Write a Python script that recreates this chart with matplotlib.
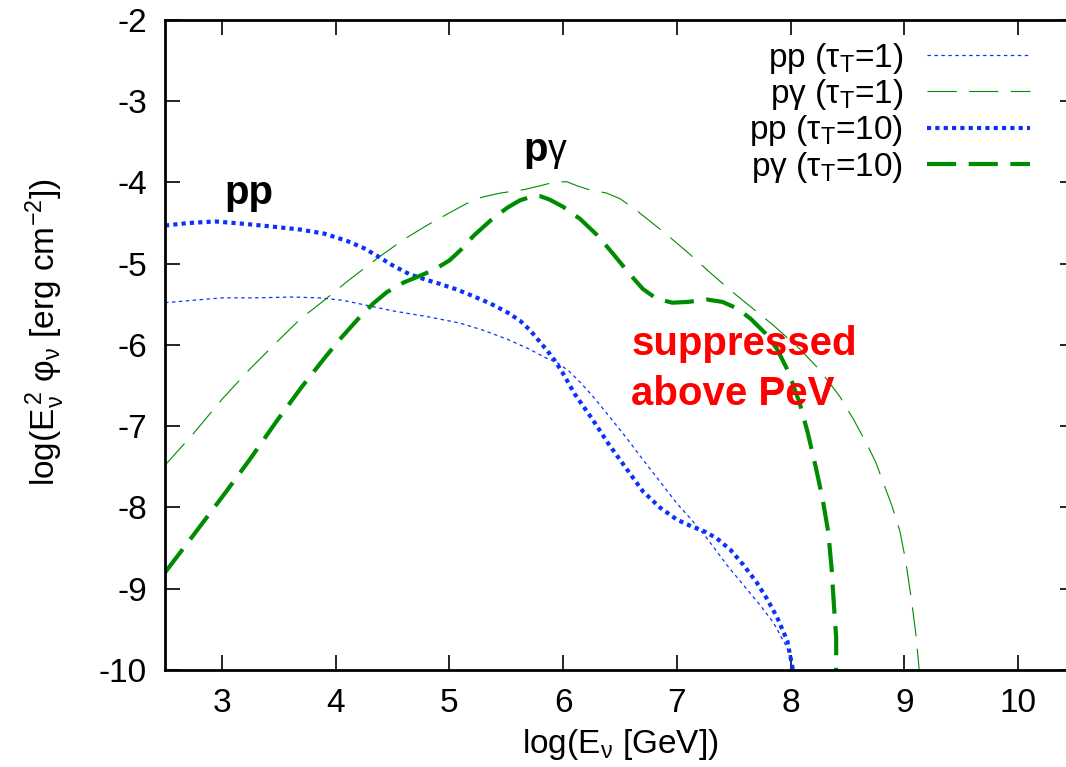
import numpy as np
import matplotlib
matplotlib.use("Agg")
import matplotlib.pyplot as plt

pp1_x = [2.5, 2.75, 3.0, 3.3, 3.62, 3.85, 4.06, 4.3, 4.5, 4.8, 5.09, 5.3, 5.51, 5.7, 5.85, 5.95, 6.05, 6.15,
         6.26, 6.4, 6.56, 6.7, 6.85, 7.0, 7.14, 7.26, 7.44, 7.6, 7.73, 7.85, 7.97, 8.02]
pp1_y = [-5.48, -5.45, -5.42, -5.42, -5.41, -5.42, -5.45, -5.52, -5.58, -5.65, -5.73, -5.82, -5.93, -6.05, -6.16,
         -6.22, -6.32, -6.46, -6.63, -6.87, -7.15, -7.41, -7.68, -7.95, -8.17, -8.37, -8.71, -8.98, -9.2, -9.42,
         -9.73, -10.0]

pg1_x = [2.5, 2.75, 3.0, 3.25, 3.5, 3.69, 3.9, 4.1, 4.36, 4.6, 4.8, 4.98, 5.15, 5.29, 5.45, 5.65, 5.8, 5.91,
         6.03, 6.12, 6.23, 6.38, 6.5, 6.65, 6.82, 6.96, 7.11, 7.3, 7.49, 7.64, 7.85, 8.08, 8.25, 8.43, 8.55, 8.67,
         8.75, 8.81, 8.89, 8.96, 9.01, 9.06, 9.1, 9.13]
pg1_y = [-7.48, -7.09, -6.67, -6.29, -5.94, -5.68, -5.45, -5.22, -4.94, -4.7, -4.53, -4.39, -4.26, -4.18, -4.13,
         -4.09, -4.04, -4.0, -3.99, -4.04, -4.09, -4.13, -4.2, -4.35, -4.54, -4.7, -4.88, -5.12, -5.35, -5.52,
         -5.76, -6.05, -6.3, -6.63, -6.91, -7.22, -7.45, -7.68, -7.98, -8.29, -8.65, -9.12, -9.55, -10.0]

pp10_x = [2.5, 2.7, 2.94, 3.2, 3.42, 3.69, 3.9, 4.1, 4.25, 4.36, 4.5, 4.65, 4.8, 4.92, 5.07, 5.21, 5.36, 5.51,
          5.62, 5.71, 5.8, 5.86, 5.93, 5.99, 6.1, 6.26, 6.4, 6.56, 6.7, 6.85, 7.0, 7.14, 7.25, 7.35, 7.47, 7.58,
          7.7, 7.79, 7.88, 7.97, 8.02]
pp10_y = [-4.53, -4.5, -4.48, -4.51, -4.54, -4.58, -4.63, -4.72, -4.81, -4.9, -5.02, -5.13, -5.2, -5.25, -5.32,
          -5.40, -5.49, -5.60, -5.70, -5.82, -5.97, -6.07, -6.2, -6.33, -6.6, -6.92, -7.22, -7.53, -7.8, -8.0,
          -8.15, -8.24, -8.3, -8.38, -8.52, -8.7, -8.92, -9.12, -9.35, -9.64, -10.0]

pg10_x = [2.5, 2.75, 3.04, 3.25, 3.48, 3.7, 3.92, 4.05, 4.21, 4.33, 4.45, 4.6, 4.74, 4.87, 5.0, 5.1, 5.21, 5.36,
          5.51, 5.62, 5.73, 5.8, 5.88, 6.0, 6.15, 6.3, 6.44, 6.58, 6.7, 6.82, 6.96, 7.1, 7.26, 7.4, 7.53, 7.65,
          7.78, 7.88, 7.98, 8.08, 8.15, 8.22, 8.28, 8.33, 8.36, 8.38, 8.4, 8.4]
pg10_y = [-8.8, -8.34, -7.8, -7.4, -6.94, -6.52, -6.13, -5.91, -5.66, -5.49, -5.35, -5.23, -5.15, -5.07, -4.96,
          -4.83, -4.66, -4.47, -4.31, -4.22, -4.17, -4.17, -4.21, -4.3, -4.45, -4.65, -4.88, -5.12, -5.31, -5.43,
          -5.48, -5.47, -5.44, -5.47, -5.55, -5.68, -5.86, -6.05, -6.33, -6.72, -7.08, -7.5, -7.89, -8.3, -8.75,
          -9.2, -9.6, -10.0]

x_ticks = [3, 4, 5, 6, 7, 8, 9, 10]
y_ticks = [-2, -3, -4, -5, -6, -7, -8, -9, -10]

plt.rcParams['font.family'] = ['Liberation Sans', 'DejaVu Sans']
plt.rcParams['mathtext.fontset'] = 'custom'
plt.rcParams['mathtext.rm'] = 'Liberation Sans'
plt.rcParams['mathtext.it'] = 'Liberation Sans:italic'
plt.rcParams['mathtext.bf'] = 'Liberation Sans:bold'
plt.rcParams['axes.unicode_minus'] = False
plt.rcParams['lines.scale_dashes'] = False

blue = '#0a32ff'
green = '#008c00'

fig = plt.figure(figsize=(10.66, 7.67), dpi=100)
ax = fig.add_axes([0.1548, 0.1265, 0.8537, 0.8475])

# Curves
ax.plot(pp1_x, pp1_y, color=blue, lw=0.9, dashes=(2.5, 2.5), label=r'pp (τ$_\mathrm{T}$=1)')
ax.plot(pg1_x, pg1_y, color=green, lw=0.8, dashes=(21, 9), label=r'pγ (τ$_\mathrm{T}$=1)')
ax.plot(pp10_x, pp10_y, color=blue, lw=3.0, dashes=(3, 3), label=r'pp (τ$_\mathrm{T}$=10)')
ax.plot(pg10_x, pg10_y, color=green, lw=3.0, dashes=(21, 9), label=r'pγ (τ$_\mathrm{T}$=10)')

# Annotations
ax.text(3.24, -4.27, 'pp', fontsize=29, fontweight='bold', ha='center', va='baseline')
ax.text(5.87, -3.73, 'p', fontsize=29, fontweight='bold', ha='right', va='baseline')
ax.text(5.87, -3.73, 'γ', fontsize=27, ha='left', va='baseline')
ax.text(6.6, -6.12, 'suppressed', fontsize=29, fontweight='bold', color='red', ha='left', va='baseline')
ax.text(6.6, -6.74, 'above PeV', fontsize=29, fontweight='bold', color='red', ha='left', va='baseline')

# Axes
ax.set_xlim(2.5, 10.5)
ax.set_ylim(-10, -2)
ax.set_xticks(x_ticks)
ax.set_yticks(y_ticks)
ax.tick_params(direction='in', length=11, width=1.2, top=True, right=True, labelsize=24)
ax.tick_params(axis='x', pad=13)
ax.tick_params(axis='y', pad=13)
for s in ax.spines.values():
    s.set_linewidth(2.0)

ax.set_xlabel(r'log(E$_\mathrm{ν}$ [GeV])', fontsize=24)
ax.xaxis.set_label_coords(0.5, -0.115)
ax.xaxis.label.set_va('center')
ax.set_ylabel(r'log(E$_\mathrm{ν}^{\,2}$ φ$_\mathrm{ν}$ [erg cm$^\mathrm{-2}$])', fontsize=24)
ax.yaxis.set_label_coords(-0.132, 0.52)
ax.yaxis.label.set_va('center')

ax.legend(loc='upper right', bbox_to_anchor=(0.9505, 0.968), frameon=False, markerfirst=False,
          fontsize=24, handlelength=3.1, handletextpad=0.7, labelspacing=0.04, borderpad=0,
          borderaxespad=0)

fig.savefig('out.png', dpi=100)
